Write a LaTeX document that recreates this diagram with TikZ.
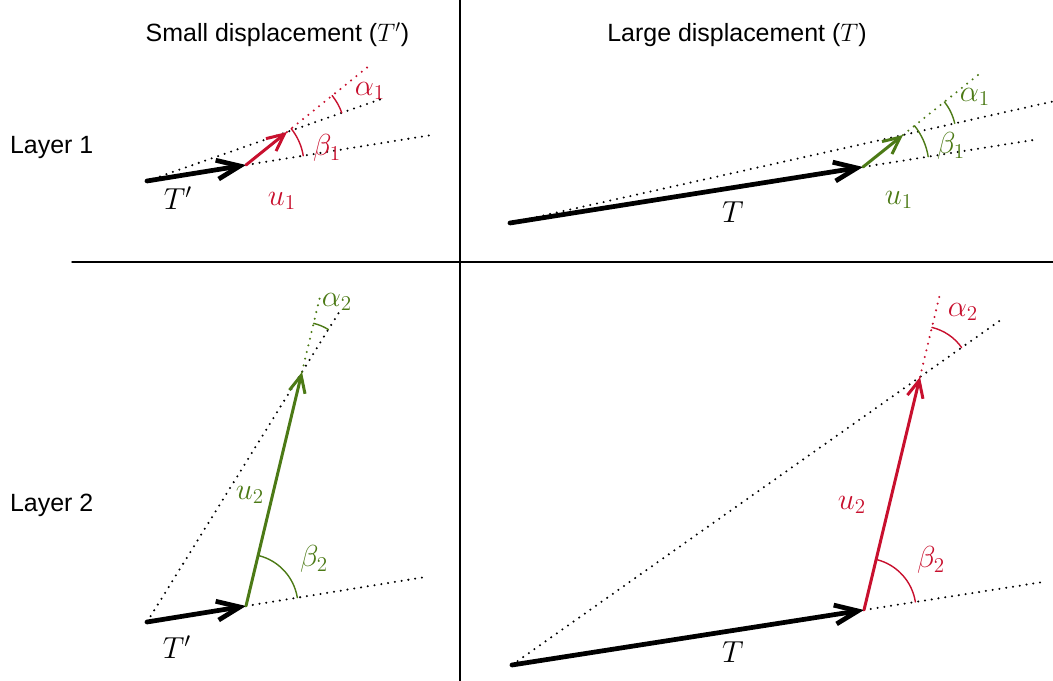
\documentclass[tikz,border=0pt]{standalone}
\usepackage{fontspec}
\setsansfont{Liberation Sans}
\usetikzlibrary{arrows.meta,calc}
\definecolor{dispred}{RGB}{200,16,46}
\definecolor{dispgreen}{RGB}{76,122,22}

\begin{document}
\begin{tikzpicture}[line cap=round,line join=round,every node/.style={inner sep=1pt},
  head/.style={font=\sffamily\fontsize{14.2}{17}\selectfont},
  lbl/.style={font=\fontsize{18}{21}\selectfont},
  bigT/.style={line width=2.7pt,-{Straight Barb[length=4.6mm,width=3.8mm]}},
  uvec/.style={line width=1.7pt,-{Straight Barb[length=3.4mm,width=3.2mm]}},
  dots/.style={line width=1.3pt,dash pattern=on 0pt off 3.9pt},
  ang/.style={line width=0.8pt}]
  \useasboundingbox (0,0) rectangle (21.06,13.62);
  % frame
  \draw[line width=0.8pt] (9.20,0) -- (9.20,13.62);
  \draw[line width=0.8pt] (1.44,8.38) -- (21.06,8.38);
  \node[head] (small) at (5.55,12.92) {Small displacement ($T'$)};
  \node[head] (large) at (14.74,12.92) {Large displacement ($T$)};
  \node[head,anchor=west] (layer1) at (0.16,10.66) {Layer 1};
  \node[head,anchor=west] (layer2) at (0.16,3.52) {Layer 2};

  % layer 1, small
  \coordinate (O1) at (2.94,10.00);
  \coordinate (A1) at (4.92,10.32);
  \coordinate (B1) at (5.74,10.98);
  \coordinate (E1) at ($(O1)!1.69!(B1)$);
  \coordinate (F1) at ($(O1)!2.86!(A1)$);
  \coordinate (G1) at ($(A1)!3.02!(B1)$);
  \draw[dots] (O1) -- (E1);
  \draw[dots] (A1) -- (F1);
  \draw[dots,dispred] (B1) -- (G1);
  \draw[ang,dispred] ($(A1)+(9.18:1.16)$) arc[start angle=9.18,end angle=38.83,radius=1.16];
  \draw[ang,dispred] ($(B1)+(19.29:1.16)$) arc[start angle=19.29,end angle=38.83,radius=1.16];
  \draw[bigT] (O1) -- (A1);
  \draw[uvec,dispred] (A1) -- (B1);
  \node[lbl] (t1) at (3.56,9.66) {$T'$};
  \node[lbl,dispred] (u1) at (5.64,9.60) {$u_1$};
  \node[lbl,dispred] (a1) at (7.40,11.80) {$\alpha_1$};
  \node[lbl,dispred] (b1) at (6.54,10.66) {$\beta_1$};

  % layer 1, large
  \coordinate (O2) at (10.20,9.16);
  \coordinate (A2) at (17.26,10.28);
  \coordinate (B2) at (18.06,10.92);
  \coordinate (E2) at ($(O2)!1.38!(B2)$);
  \coordinate (F2) at ($(O2)!1.49!(A2)$);
  \coordinate (G2) at ($(A2)!3.0!(B2)$);
  \draw[dots] (O2) -- (E2);
  \draw[dots] (A2) -- (F2);
  \draw[dots,dispgreen] (B2) -- (G2);
  \draw[ang,dispgreen] ($(A2)+(9.01:1.32)$) arc[start angle=9.01,end angle=38.66,radius=1.32];
  \draw[ang,dispgreen] ($(B2)+(12.62:1.06)$) arc[start angle=12.62,end angle=38.66,radius=1.06];
  \draw[bigT] (O2) -- (A2);
  \draw[uvec,dispgreen] (A2) -- (B2);
  \node[lbl] (t2) at (14.66,9.38) {$T$};
  \node[lbl,dispgreen] (u2) at (17.98,9.62) {$u_1$};
  \node[lbl,dispgreen] (a2) at (19.50,11.68) {$\alpha_1$};
  \node[lbl,dispgreen] (b2) at (19.02,10.70) {$\beta_1$};

  % layer 2, small
  \coordinate (O3) at (2.94,1.18);
  \coordinate (A3) at (4.92,1.50);
  \coordinate (B3) at (6.04,6.18);
  \coordinate (E3) at ($(O3)!1.245!(B3)$);
  \coordinate (F3) at ($(O3)!2.84!(A3)$);
  \coordinate (G3) at ($(A3)!1.34!(B3)$);
  \draw[dots] (O3) -- (E3);
  \draw[dots] (A3) -- (F3);
  \draw[dots,dispgreen] (B3) -- (G3);
  \draw[ang,dispgreen] ($(A3)+(9.18:1.04)$) arc[start angle=9.18,end angle=76.54,radius=1.04];
  \draw[ang,dispgreen] ($(B3)+(58.20:1.00)$) arc[start angle=58.20,end angle=76.54,radius=1.00];
  \draw[bigT] (O3) -- (A3);
  \draw[uvec,dispgreen] (A3) -- (B3);
  \node[lbl] (t3) at (3.54,0.68) {$T'$};
  \node[lbl,dispgreen] (u3) at (5.00,3.72) {$u_2$};
  \node[lbl,dispgreen] (a3) at (6.74,7.58) {$\alpha_2$};
  \node[lbl,dispgreen] (b3) at (6.28,2.44) {$\beta_2$};

  % layer 2, large
  \coordinate (O4) at (10.24,0.32);
  \coordinate (A4) at (17.28,1.42);
  \coordinate (B4) at (18.40,6.08);
  \coordinate (E4) at ($(O4)!1.206!(B4)$);
  \coordinate (F4) at ($(O4)!1.506!(A4)$);
  \coordinate (G4) at ($(A4)!1.37!(B4)$);
  \draw[dots] (O4) -- (E4);
  \draw[dots] (A4) -- (F4);
  \draw[dots,dispred] (B4) -- (G4);
  \draw[ang,dispred] ($(A4)+(8.88:1.04)$) arc[start angle=8.88,end angle=76.49,radius=1.04];
  \draw[ang,dispred] ($(B4)+(35.22:1.02)$) arc[start angle=35.22,end angle=76.49,radius=1.02];
  \draw[bigT] (O4) -- (A4);
  \draw[uvec,dispred] (A4) -- (B4);
  \node[lbl] (t4) at (14.66,0.58) {$T$};
  \node[lbl,dispred] (u4) at (17.04,3.52) {$u_2$};
  \node[lbl,dispred] (a4) at (19.26,7.38) {$\alpha_2$};
  \node[lbl,dispred] (b4) at (18.62,2.42) {$\beta_2$};
\end{tikzpicture}
\end{document}
